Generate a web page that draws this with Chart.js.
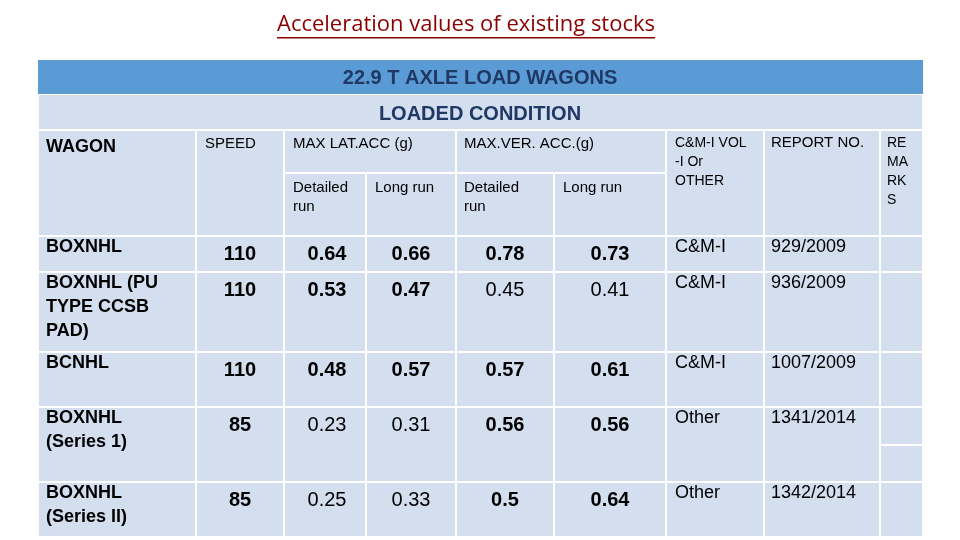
<!DOCTYPE html>
<html><head><meta charset="utf-8">
<script src="https://cdn.jsdelivr.net/npm/chart.js@4"></script>
<style>html,body{margin:0;padding:0;background:#fff}#w{width:960px;height:540px}</style>
</head><body><div id="w"><canvas id="c" width="960" height="540"></canvas></div>
<script>
const title = "Acceleration values of existing stocks";
const banner1 = "22.9 T AXLE LOAD WAGONS";
const banner2 = "LOADED CONDITION";
const wagons = ["BOXNHL", "BOXNHL (PU\nTYPE CCSB\nPAD)", "BCNHL", "BOXNHL\n(Series 1)", "BOXNHL\n(Series II)"];
const speeds = ["110", "110", "110", "85", "85"];
const latDetailed = ["0.64", "0.53", "0.48", "0.23", "0.25"];
const latLong = ["0.66", "0.47", "0.57", "0.31", "0.33"];
const verDetailed = ["0.78", "0.45", "0.57", "0.56", "0.5"];
const verLong = ["0.73", "0.41", "0.61", "0.56", "0.64"];
const cmVol = ["C&M-I", "C&M-I", "C&M-I", "Other", "Other"];
const reportNo = ["929/2009", "936/2009", "1007/2009", "1341/2014", "1342/2014"];
const boldFlags = [[1,1,1,1,1],[1,1,1,0,0],[1,1,1,1,1],[1,0,0,1,1],[1,0,0,1,1]];

const X = [38,196,284,366,456,554,666,764,880,923];
const RY = [236,272,352,407,482,537];
const CELL = "#d3deef";

const tablePlugin = {
  id: "table",
  afterDraw(chart) {
    const c = chart.ctx;
    c.save();
    const rect = (x0,y0,x1,y1,col) => { c.fillStyle = col; c.fillRect(x0+1,y0+1,x1-x0-2,y1-y0-2); };
    const txt = (s,x,y,font,col,align,lh) => {
      c.font = font; c.fillStyle = col; c.textAlign = align || "left"; c.textBaseline = "middle";
      String(s).split("\n").forEach((l,i) => c.fillText(l, x, y + i*(lh||19)));
    };
    // title
    txt(title, 466, 25, "22px 'Open Sans'", "#8b0000", "center");
    c.font = "22px 'Open Sans'";
    const tw = c.measureText(title).width;
    c.fillStyle = "#8b0000"; c.fillRect(466 - tw/2, 37, tw, 1.5);
    // banners
    c.fillStyle = "#5b9bd5"; c.fillRect(38,60,885,34);
    txt(banner1, 480, 78, "bold 20px 'Liberation Sans'", "#1f3864", "center");
    rect(38,94,923,130,CELL);
    txt(banner2, 480, 114, "bold 20px 'Liberation Sans'", "#1f3864", "center");
    // header cells
    rect(X[0],130,X[1],236,CELL); rect(X[1],130,X[2],236,CELL);
    rect(X[2],130,X[4],173,CELL); rect(X[4],130,X[6],173,CELL);
    for (let i=2;i<6;i++) rect(X[i],173,X[i+1],236,CELL);
    rect(X[6],130,X[7],236,CELL); rect(X[7],130,X[8],236,CELL); rect(X[8],130,X[9],236,CELL);
    const hf = "15px 'Liberation Sans'", hc = "#000";
    txt("WAGON", 46, 147, "bold 18px 'Liberation Sans'", hc);
    txt("SPEED", 205, 144, hf, hc);
    txt("MAX LAT.ACC (g)", 293, 144, hf, hc);
    txt("MAX.VER. ACC.(g)", 464, 144, hf, hc);
    txt("Detailed\nrun", 293, 188, hf, hc);
    txt("Long run", 375, 188, hf, hc);
    txt("Detailed\nrun", 464, 188, hf, hc);
    txt("Long run", 563, 188, hf, hc);
    txt("C&M-I VOL\n-I Or\nOTHER", 675, 143, "14px 'Liberation Sans'", hc, "left", 19);
    txt("REPORT NO.", 771, 143, hf, hc);
    txt("RE\nMA\nRK\nS", 887, 143, "14px 'Liberation Sans'", hc, "left", 19);
    // body
    const vf = b => (b ? "bold " : "") + "20px 'Liberation Sans'";
    const remarkRows = [[236,272],[272,352],[352,407],[407,445],[445,482],[482,537]];
    remarkRows.forEach(r => rect(X[8],r[0],X[9],r[1],CELL));
    for (let r=0;r<wagons.length;r++) {
      const y0 = RY[r], y1 = RY[r+1];
      for (let i=0;i<8;i++) rect(X[i],y0,X[i+1],y1,CELL);
      const ty = y0 + 11, vy = y0 + 18;
      txt(wagons[r], 46, ty, "bold 18px 'Liberation Sans'", hc, "left", 24);
      const vals = [speeds, latDetailed, latLong, verDetailed, verLong];
      const cx = [240, 327, 411, 505, 610];
      vals.forEach((a,j) => txt(a[r], cx[j], vy, vf(boldFlags[r][j]), hc, "center"));
      txt(cmVol[r], 675, ty, "18px 'Liberation Sans'", hc);
      txt(reportNo[r], 771, ty, "18px 'Liberation Sans'", hc);
    }
    c.restore();
  }
};

new Chart(document.getElementById("c"), {
  type: "bar",
  data: { labels: wagons, datasets: [{ data: [], backgroundColor: "transparent" }] },
  options: {
    responsive: false, animation: false,
    plugins: { legend: { display: false }, tooltip: { enabled: false } },
    scales: { x: { display: false }, y: { display: false } }
  },
  plugins: [tablePlugin]
});
</script></body></html>
